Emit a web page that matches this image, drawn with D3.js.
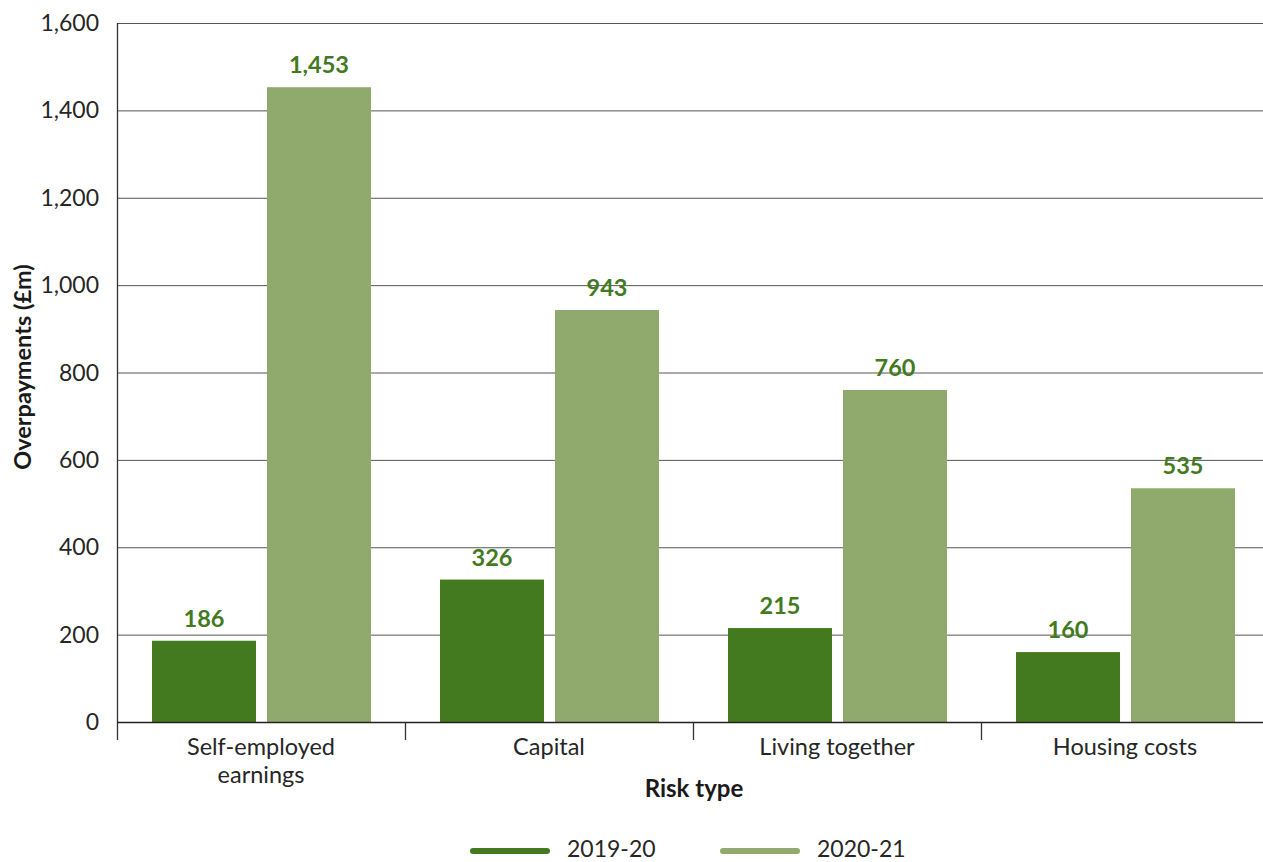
<!DOCTYPE html>
<html><head><meta charset="utf-8">
<script src="https://cdn.jsdelivr.net/npm/d3@7"></script>
<style>body{margin:0;background:#fff}svg{display:block}text{font-family:Lato,"Open Sans",sans-serif}</style>
</head><body><svg id="c" width="1263" height="862"></svg>
<script>
const categories = [["Self-employed","earnings"],["Capital"],["Living together"],["Housing costs"]];
const categoryKeys = ["Self-employed earnings","Capital","Living together","Housing costs"];
const seriesNames = ["2019-20","2020-21"];
const values2019 = [186,326,215,160];
const values2020 = [1453,943,760,535];
const yTicks = [0,200,400,600,800,1000,1200,1400,1600];
const colors = ["#437a1f","#8faa6c"];

(function(){
const svg = d3.select("#c");
const pL = 117, pR = 1269, pT = 23, pB = 722;
const y = d3.scaleLinear().domain([0,1600]).range([pB, pT]);
const x0 = d3.scaleBand().domain(categoryKeys).range([pL, pR]).padding(0);
const x1 = d3.scaleBand().domain(seriesNames).range([35, 254]).paddingInner(0.0957).paddingOuter(0);

svg.append("g").selectAll("line").data(yTicks.filter(d=>d>0)).join("line")
  .attr("x1", pL).attr("x2", pR).attr("y1", d=>y(d)+0.5).attr("y2", d=>y(d)+0.5)
  .attr("stroke", "#555").attr("stroke-width", 1);

svg.append("g").selectAll("text").data(yTicks).join("text")
  .attr("x", 99).attr("y", d=>y(d)+8).attr("text-anchor","end")
  .attr("font-size", 23).attr("fill","#262626")
  .text(d=>d3.format(",")(d));

const data = [values2019, values2020];
categoryKeys.forEach((c,i)=>{
  const g = svg.append("g").attr("transform",`translate(${x0(c)},0)`);
  seriesNames.forEach((s,j)=>{
    const v = data[j][i];
    g.append("rect").attr("x", x1(s)).attr("width", x1.bandwidth())
      .attr("y", y(v)).attr("height", y(0)-y(v)).attr("fill", colors[j]);
    g.append("text").attr("x", x1(s)+x1.bandwidth()/2).attr("y", y(v)-14)
      .attr("text-anchor","middle").attr("font-size",23.5).attr("font-weight","bold")
      .attr("fill","#437a1f").text(d3.format(",")(v));
  });
});

svg.append("line").attr("x1",pL+0.5).attr("x2",pL+0.5).attr("y1",pT).attr("y2",740).attr("stroke","#333").attr("stroke-width",1.3);
svg.append("line").attr("x1",pL).attr("x2",pR).attr("y1",pB+0.5).attr("y2",pB+0.5).attr("stroke","#222").attr("stroke-width",1.5);
svg.append("g").selectAll("line").data(categoryKeys.slice(1)).join("line")
  .attr("x1",d=>x0(d)+0.5).attr("x2",d=>x0(d)+0.5).attr("y1",pB).attr("y2",740)
  .attr("stroke","#333").attr("stroke-width",1.3);

categoryKeys.forEach((c,i)=>{
  const t = svg.append("text").attr("x", x0(c)+x0.bandwidth()/2).attr("y", 755)
    .attr("text-anchor","middle").attr("font-size",23.5).attr("fill","#262626");
  categories[i].forEach((line,k)=>{
    t.append("tspan").attr("x", x0(c)+x0.bandwidth()/2).attr("dy", k===0?0:28).text(line);
  });
});

svg.append("text").attr("x",694).attr("y",797).attr("text-anchor","middle")
  .attr("font-size",24).attr("font-weight","bold").attr("fill","#1a1a1a").text("Risk type");
svg.append("text").attr("transform","translate(31,367) rotate(-90)").attr("text-anchor","middle")
  .attr("font-size",23.5).attr("font-weight","bold").attr("fill","#1a1a1a").text("Overpayments (£m)");

const legX = [470, 720];
seriesNames.forEach((s,j)=>{
  svg.append("line").attr("x1",legX[j]+3).attr("x2",legX[j]+77).attr("y1",851).attr("y2",851)
    .attr("stroke",colors[j]).attr("stroke-width",6).attr("stroke-linecap","round");
  svg.append("text").attr("x",legX[j]+97).attr("y",857).attr("font-size",23).attr("fill","#262626").text(s);
});
})();
</script></body></html>
